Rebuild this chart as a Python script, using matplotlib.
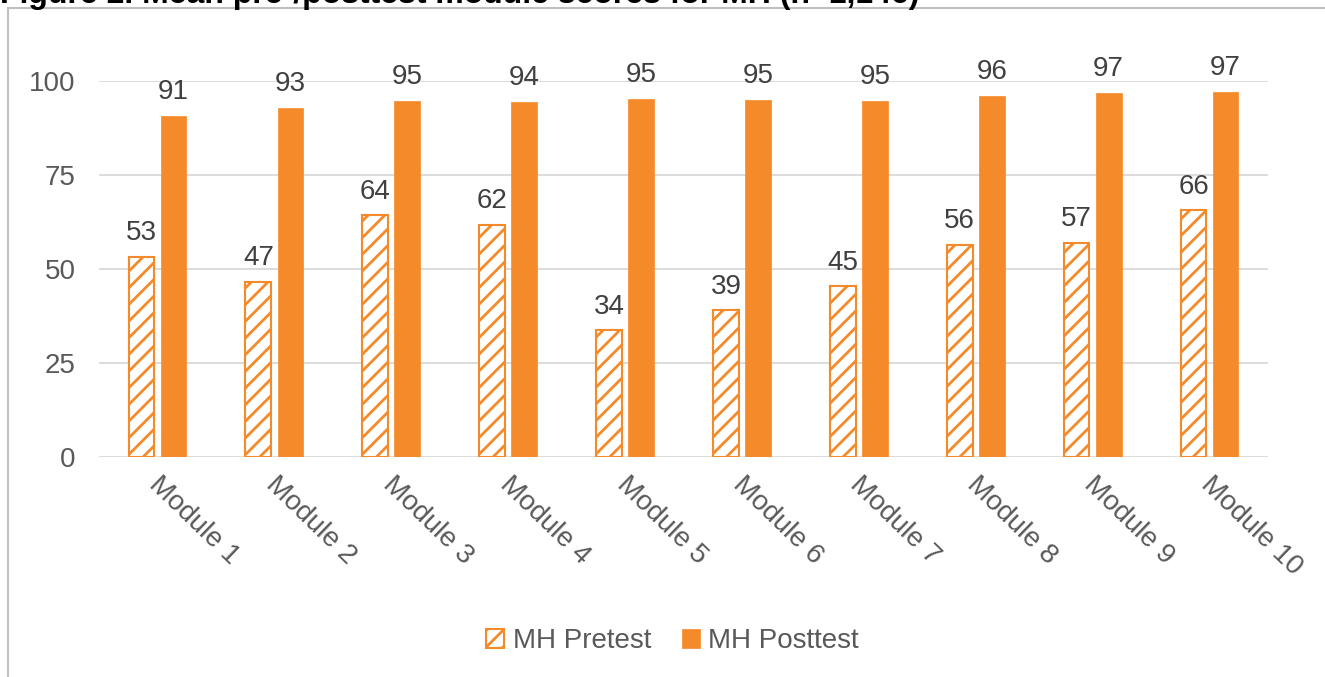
import numpy as np
import matplotlib.pyplot as plt
from matplotlib.patches import Rectangle

plt.rcParams['font.family'] = ['Liberation Sans', 'DejaVu Sans']
plt.rcParams['hatch.linewidth'] = 2.0

modules = ['Module %d' % i for i in range(1, 11)]
pretest = [53.3, 46.6, 64.3, 61.8, 33.7, 39.0, 45.4, 56.4, 57.0, 65.6]
posttest = [90.8, 92.8, 94.8, 94.4, 95.2, 95.0, 94.8, 96.1, 96.8, 97.1]
yticks = [0, 25, 50, 75, 100]

orange = '#F58A2B'
fs = 20
W, H = 1325, 677

fig = plt.figure(figsize=(W / 100, H / 100), dpi=100)
ax = fig.add_axes([99 / W, 1 - 457 / H, (1268 - 99) / W, (457 - 81) / H])

x = np.arange(len(modules))
w = 0.22
off = 0.137
b1 = ax.bar(x - off, pretest, w, color='white', edgecolor=orange,
            hatch='//', linewidth=1.5, label='MH Pretest', zorder=3)
b2 = ax.bar(x + off, posttest, w, color=orange, edgecolor=orange,
            linewidth=0.5, label='MH Posttest', zorder=3)

for bars in (b1, b2):
    for r in bars:
        h = r.get_height()
        ax.annotate('%.0f' % h, (r.get_x() + r.get_width() / 2, h),
                    xytext=(0, 12), textcoords='offset points',
                    ha='center', va='baseline', fontsize=fs,
                    color='#404040', clip_on=False)

ax.set_xlim(-0.5, len(modules) - 0.5)
ax.set_ylim(0, 100)
ax.set_yticks(yticks)
ax.set_yticklabels([str(t) for t in yticks], fontsize=fs, color='#595959')
ax.tick_params(axis='y', length=0, pad=17)
ax.grid(axis='y', color='#D9D9D9', linewidth=1.3, zorder=0)
ax.set_axisbelow(True)
for s in ax.spines.values():
    s.set_visible(False)

ax.set_xticks([])
for i, m in enumerate(modules):
    ax.text(i - 0.04, -6.5, m, rotation=-44, rotation_mode='anchor',
            ha='left', va='center', fontsize=fs, color='#595959')

fig.legend(handles=[b1, b2], loc='center',
           bbox_to_anchor=(0.5 + 10 / W, 1 - 641 / H),
           ncol=2, frameon=False, fontsize=fs, labelcolor='#595959',
           handlelength=0.65, handleheight=0.65, handletextpad=0.3,
           columnspacing=1.1)

# chart border, cut off at right and bottom
fig.patches.append(Rectangle((8 / W, -0.1), 1.2, 1 - 8 / H + 0.1,
                             transform=fig.transFigure, fill=False,
                             edgecolor='#BFBFBF', linewidth=1.5))

fig.text(0, 1 - 2.5 / H, 'Figure 2. Mean pre-/posttest module scores for MH (n=1,146)',
         ha='left', va='baseline', fontsize=23, fontweight='bold', color='black')

fig.savefig('out.png', dpi=100)
